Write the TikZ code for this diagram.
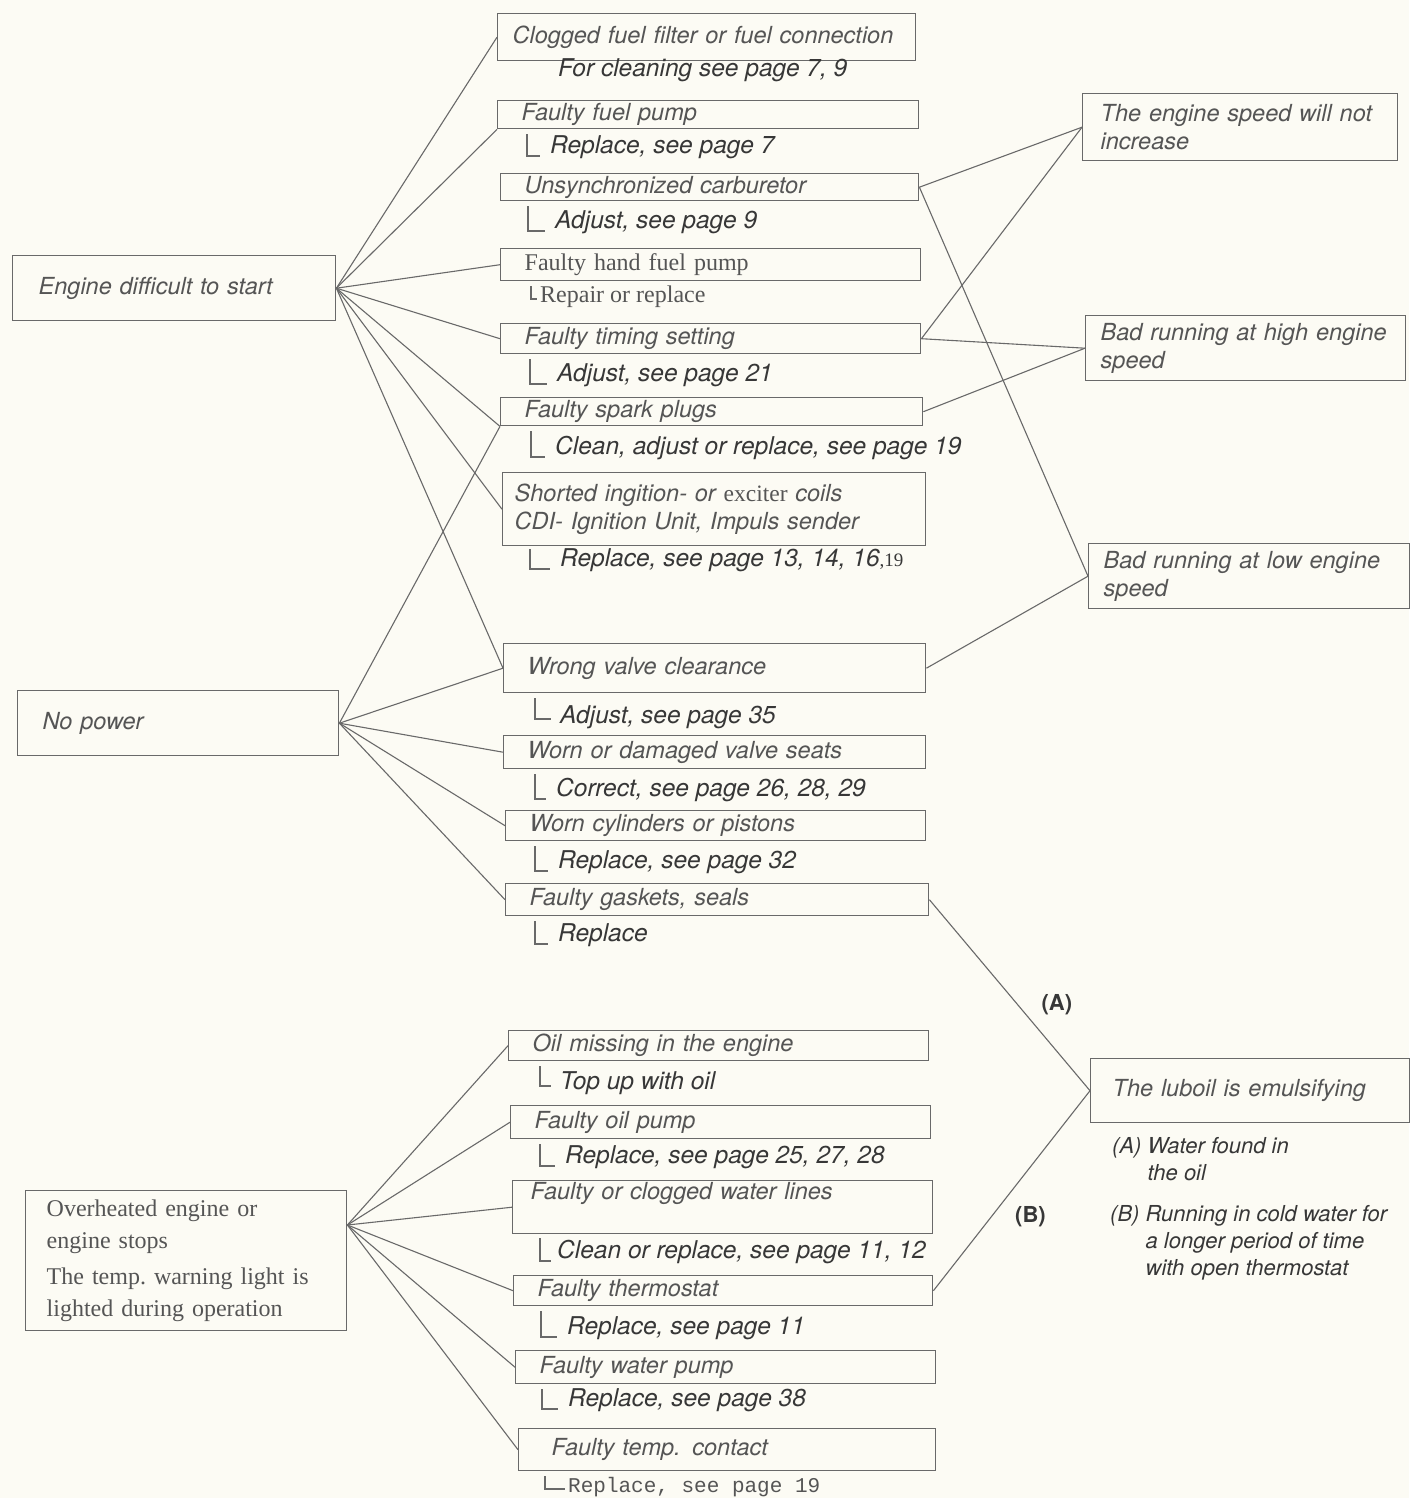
\documentclass[tikz,border=0pt]{standalone}
\usepackage{fontspec}
\setmainfont{Liberation Serif}
\setsansfont{TeX Gyre Heros}
\setmonofont{Liberation Mono}
\usetikzlibrary{positioning}
\definecolor{paper}{RGB}{252,251,244}
\definecolor{ink}{RGB}{55,55,55}
\definecolor{pale}{RGB}{85,85,85}
\definecolor{wire}{RGB}{105,105,105}
\tikzset{
  box/.style={draw=wire, line width=1.4pt, anchor=north west, align=left,
    inner xsep=24pt, inner ysep=0pt, text=pale, text width=#1,
    font=\sffamily\itshape\fontsize{23.5}{28}\selectfont},
  fix/.style={anchor=west, inner sep=3pt, text=ink,
    font=\sffamily\itshape\fontsize{24.5}{28}\selectfont},
  note/.style={anchor=north west, inner sep=0pt, text=ink,
    font=\sffamily\itshape\fontsize{22}{27}\selectfont},
  oldtype/.style={font=\rmfamily\upshape\fontsize{24}{32}\selectfont},
  link/.style={draw=wire, line width=1.1pt},
  tick/.style={draw=wire, line width=1.1pt},
  mark label/.style={text=ink, font=\sffamily\bfseries\fontsize{22}{26}\selectfont},
}
\begin{document}
\begin{tikzpicture}[x=1pt,y=-1pt]
  \useasboundingbox (0,0) rectangle (1409,1498);
  \fill[paper] (0,0) rectangle (1409,1498);
  % symptoms, left
  \node[box=271pt, inner xsep=26pt, minimum height=65pt] (start) at (12,255) {Engine difficult to start};
  \node[box=271pt, inner xsep=25pt, minimum height=65pt] (nopower) at (17,690) {No power};
  \node[box=279pt, inner xsep=21pt, minimum height=140pt, oldtype, text=pale] (hot) at (25,1190)
    {Overheated engine or\\ engine stops\\[4pt] The temp.\ warning light is\\ lighted during operation};
  % symptoms, right
  \node[box=279pt, inner xsep=18pt, minimum height=67pt] (speed) at (1082,93) {The engine speed will not\\ increase};
  \node[box=290pt, inner xsep=15pt, minimum height=65pt] (high) at (1085,315) {Bad running at high engine\\ speed};
  \node[box=291pt, inner xsep=15pt, minimum height=65pt] (low) at (1088,543) {Bad running at low engine\\ speed};
  \node[box=275pt, inner xsep=22pt, minimum height=64pt] (lub) at (1090,1058) {The luboil is emulsifying};
  \node[note] (noteA) at (1112,1134) {\begin{tabular}{@{}l@{ }l@{}}(A)&Water found in\\&the oil\end{tabular}};
  \node[note] (noteB) at (1110,1202) {\begin{tabular}{@{}l@{ }l@{}}(B)&Running in cold water for\\&a longer period of time\\&with open thermostat\end{tabular}};
  % fuel and ignition
  \node[box=388pt, inner xsep=15pt, minimum height=47pt] (clog) at (497,13) {Clogged fuel filter or fuel connection};
  \node[fix] (clogfix) at (555,70) {For cleaning see page 7, 9};
  \node[box=373pt, minimum height=28pt] (fpump) at (497,100) {Faulty fuel pump};
  \node[fix] (fpfix) at (547,147) {Replace, see page 7};
  \node[box=370pt, minimum height=27pt] (sync) at (500,173) {Unsynchronized carburetor};
  \node[fix] (syncfix) at (552,222) {Adjust, see page 9};
  \node[box=372pt, minimum height=32pt, oldtype, text=pale] (hpump) at (500,248) {Faulty hand fuel pump};
  \node[fix, oldtype, text=pale] (hpfix) at (537,297) {Repair or replace};
  \node[box=372pt, minimum height=30pt] (timing) at (500,323) {Faulty timing setting};
  \node[fix] (timfix) at (554,375) {Adjust, see page 21};
  \node[box=374pt, minimum height=28pt] (spark) at (500,397) {Faulty spark plugs};
  \node[fix] (spfix) at (552,448) {Clean, adjust or replace, see page 19};
  \node[box=399pt, inner xsep=12pt, minimum height=73pt] (coils) at (502,472)
    {Shorted ingition- or {\rmfamily\upshape exciter} coils\\ CDI- Ignition Unit, Impuls sender};
  \node[fix] (coilfix) at (557,560) {Replace, see page 13, 14, 16{\rmfamily\upshape\fontsize{19}{22}\selectfont ,19}};
  % engine mechanics
  \node[box=374pt, minimum height=49pt] (valve) at (503,643) {Wrong valve clearance};
  \node[fix] (valvefix) at (557,717) {Adjust, see page 35};
  \node[box=374pt, minimum height=33pt] (seats) at (503,735) {Worn or damaged valve seats};
  \node[fix] (seatsfix) at (553,790) {Correct, see page 26, 28, 29};
  \node[box=372pt, minimum height=30pt] (cyl) at (505,810) {Worn cylinders or pistons};
  \node[fix] (cylfix) at (555,862) {Replace, see page 32};
  \node[box=375pt, minimum height=32pt] (gasket) at (505,883) {Faulty gaskets, seals};
  \node[fix] (gasfix) at (555,935) {Replace};
  % cooling and oil
  \node[box=372pt, minimum height=30pt] (oilmiss) at (508,1030) {Oil missing in the engine};
  \node[fix] (oilfix) at (557,1083) {Top up with oil};
  \node[box=372pt, minimum height=33pt] (opump) at (510,1105) {Faulty oil pump};
  \node[fix] (opfix) at (562,1157) {Replace, see page 25, 27, 28};
  \node[box=384pt, inner xsep=18pt, minimum height=53pt, text depth=32pt] (wlines) at (512,1180) {Faulty or clogged water lines};
  \node[fix] (wlfix) at (554,1252) {Clean or replace, see page 11, 12};
  \node[box=371pt, minimum height=30pt] (thermo) at (513,1275) {Faulty thermostat};
  \node[fix] (thfix) at (564,1328) {Replace, see page 11};
  \node[box=372pt, minimum height=33pt] (wpump) at (515,1350) {Faulty water pump};
  \node[fix] (wpfix) at (565,1400) {Replace, see page 38};
  \node[box=351pt, inner xsep=33pt, minimum height=42pt] (tcontact) at (518,1428) {Faulty temp. contact};
  \node[fix, text=pale, font=\ttfamily\fontsize{21}{24}\selectfont] (tcfix) at (565,1487) {Replace, see page 19};
  % remedy ticks
  \draw[tick] ([xshift=30pt,yshift=-5pt]fpump.south west) |- ([xshift=-7pt,yshift=-9pt]fpfix.west);
  \draw[tick] ([xshift=28pt,yshift=-5pt]sync.south west) |- ([xshift=-7pt,yshift=-9pt]syncfix.west);
  \draw[tick] ([xshift=31pt,yshift=-5pt]hpump.south west) |- ([yshift=-2pt]hpfix.west);
  \draw[tick] ([xshift=30pt,yshift=-5pt]timing.south west) |- ([xshift=-7pt,yshift=-9pt]timfix.west);
  \draw[tick] ([xshift=31pt,yshift=-5pt]spark.south west) |- ([xshift=-7pt,yshift=-9pt]spfix.west);
  \draw[tick] ([xshift=28pt,yshift=-3pt]coils.south west) |- ([xshift=-7pt,yshift=-9pt]coilfix.west);
  \draw[tick] ([xshift=32pt,yshift=-5pt]valve.south west) |- ([xshift=-6pt,yshift=-2pt]valvefix.west);
  \draw[tick] ([xshift=32pt,yshift=-5pt]seats.south west) |- ([xshift=-7pt,yshift=-9pt]seatsfix.west);
  \draw[tick] ([xshift=30pt,yshift=-5pt]cyl.south west) |- ([xshift=-7pt,yshift=-9pt]cylfix.west);
  \draw[tick] ([xshift=30pt,yshift=-5pt]gasket.south west) |- ([xshift=-7pt,yshift=-9pt]gasfix.west);
  \draw[tick] ([xshift=32pt,yshift=-5pt]oilmiss.south west) |- ([xshift=-6pt,yshift=-3pt]oilfix.west);
  \draw[tick] ([xshift=30pt,yshift=-5pt]opump.south west) |- ([xshift=-7pt,yshift=-9pt]opfix.west);
  \draw[tick] ([xshift=28pt,yshift=-4pt]wlines.south west) |- ([xshift=-3pt,yshift=-9pt]wlfix.west);
  \draw[tick] ([xshift=28pt,yshift=-5pt]thermo.south west) |- ([xshift=-7pt,yshift=-9pt]thfix.west);
  \draw[tick] ([xshift=27pt,yshift=-5pt]wpump.south west) |- ([xshift=-7pt,yshift=-9pt]wpfix.west);
  \draw[tick] ([xshift=27pt,yshift=-5pt]tcontact.south west) |- ([yshift=-2pt]tcfix.west);
  % causes of engine difficult to start
  \draw[link] (start.east) -- (clog.west);
  \draw[link] (start.east) -- (fpump.south west);
  \draw[link] (start.east) -- (hpump.west);
  \draw[link] (start.east) -- (timing.west);
  \draw[link] (start.east) -- (spark.south west);
  \draw[link] (start.east) -- (coils.west);
  \draw[link] (start.east) -- (valve.west);
  % causes of no power
  \draw[link] (nopower.east) -- (spark.south west);
  \draw[link] (nopower.east) -- (valve.west);
  \draw[link] (nopower.east) -- (seats.west);
  \draw[link] (nopower.east) -- (cyl.west);
  \draw[link] (nopower.east) -- (gasket.west);
  % causes of overheating
  \coordinate (hotout) at ([yshift=-35pt]hot.north east);
  \draw[link] (hotout) -- (oilmiss.west);
  \draw[link] (hotout) -- (opump.west);
  \draw[link] (hotout) -- (wlines.west);
  \draw[link] (hotout) -- (thermo.west);
  \draw[link] (hotout) -- (wpump.west);
  \draw[link] (hotout) -- (tcontact.west);
  % symptoms on the right
  \draw[link] (sync.east) -- (speed.west);
  \draw[link] (timing.east) -- (speed.west);
  \draw[link] (timing.east) -- (high.west);
  \draw[link] (spark.east) -- (high.west);
  \draw[link] (sync.east) -- (low.west);
  \draw[link] (valve.east) -- (low.west);
  \draw[link] (gasket.east) -- node[pos=0.55, right=20pt, mark label] (markA) {(A)} (lub.west);
  \draw[link] (thermo.east) -- node[pos=0.37, right=20pt, mark label] (markB) {(B)} (lub.west);
\end{tikzpicture}
\end{document}
